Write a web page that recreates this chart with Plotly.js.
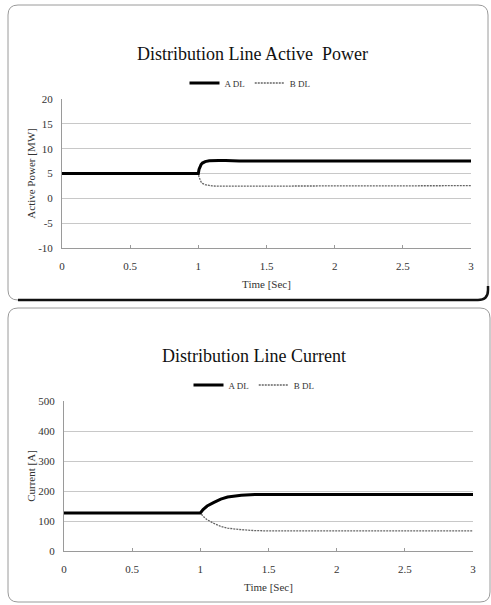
<!DOCTYPE html>
<html><head><meta charset="utf-8">
<script src="https://cdn.plot.ly/plotly-3.0.1.min.js"></script>
<style>html,body{margin:0;padding:0;background:#fff}#chart{width:491px;height:605px}</style>
</head><body><div id="chart"></div>
<script>
// ---- data ----
const powerTime = [0, 1, 1.005, 1.01, 1.02, 1.03, 1.05, 1.08, 1.1, 1.15, 1.2, 1.25, 1.3, 1.5, 2, 2.5, 3];
const powerA    = [5.0, 5.0, 5.8, 6.3, 6.8, 7.1, 7.4, 7.55, 7.6, 7.6, 7.6, 7.55, 7.5, 7.5, 7.5, 7.5, 7.5];
const powerB    = [5.0, 5.0, 4.3, 3.8, 3.3, 3.0, 2.75, 2.6, 2.5, 2.45, 2.45, 2.5, 2.55, 2.55, 2.55, 2.55, 2.55];
const currTime  = [0, 1, 1.02, 1.05, 1.1, 1.15, 1.2, 1.25, 1.3, 1.4, 1.5, 2, 2.5, 3];
const currA     = [127, 127, 138, 150, 162, 173, 180, 184, 186, 188, 188, 188, 188, 188];
const currB     = [127, 127, 116, 104, 92, 82, 76, 73, 71, 68, 67, 67, 67, 67];
const seriesNames = ['A DL', 'B DL'];
const titles = ['Distribution Line Active \u00a0Power', 'Distribution Line Current'];
const yTitles = ['Active Power [MW]', 'Current [A]'];
const xTitle = 'Time [Sec]';
const powerTickVals = [-10, -5, 0, 5, 10, 15, 20];
const powerTickText = ['-10', '-5', '0', '5', '10', '15', '20'];
const currTickVals = [0, 100, 200, 300, 400, 500];
const timeTickVals = [0, 0.5, 1, 1.5, 2, 2.5, 3];

const W = 491, H = 605;
const px = v => v / W, py = v => 1 - v / H;
const FONT = 'Liberation Serif, Times New Roman, serif';

const lineA = {color: '#000', width: 3};
const lineB = {color: '#666', width: 1.3, dash: '2px,1px'};

// B drawn first so A lies on top; legendrank keeps A first in legends
const traces = [
  {x: powerTime, y: powerB, name: seriesNames[1], mode: 'lines', line: lineB, xaxis: 'x', yaxis: 'y', legend: 'legend', legendrank: 2},
  {x: powerTime, y: powerA, name: seriesNames[0], mode: 'lines', line: lineA, xaxis: 'x', yaxis: 'y', legend: 'legend', legendrank: 1},
  {x: currTime, y: currB, name: seriesNames[1], mode: 'lines', line: lineB, xaxis: 'x2', yaxis: 'y2', legend: 'legend2', legendrank: 2},
  {x: currTime, y: currA, name: seriesNames[0], mode: 'lines', line: lineA, xaxis: 'x2', yaxis: 'y2', legend: 'legend2', legendrank: 1}
];

function xax(domain, anchor) {
  return {domain: domain, anchor: anchor, range: [0, 3], tickvals: timeTickVals, showgrid: false, zeroline: false,
    showline: true, linecolor: '#9a9a9a', linewidth: 1, ticks: 'inside', ticklen: 3, tickcolor: '#9a9a9a',
    tickfont: {family: FONT, size: 11, color: '#333'}, ticklabelstandoff: 8,
    title: {text: xTitle, font: {family: FONT, size: 11, color: '#333'}, standoff: 9}, automargin: false};
}
function yax(domain, anchor, range, vals, text, title) {
  return {domain: domain, anchor: anchor, range: range, tickvals: vals, ticktext: text, showgrid: true, gridcolor: '#c8c8c8', gridwidth: 1,
    zeroline: false, showline: true, linecolor: '#9a9a9a', linewidth: 1, ticks: '',
    tickfont: {family: FONT, size: 11, color: '#333'}, ticklabelstandoff: 6,
    title: {text: title, font: {family: FONT, size: 11, color: '#333'}, standoff: 0}, automargin: false};
}

function roundRect(x0, y0, x1, y1, r) {
  const P = (x, y) => px(x) + ',' + py(y);
  return 'M' + P(x0 + r, y0) + ' L' + P(x1 - r, y0) + ' Q' + P(x1, y0) + ' ' + P(x1, y0 + r) +
    ' L' + P(x1, y1 - r) + ' Q' + P(x1, y1) + ' ' + P(x1 - r, y1) + ' L' + P(x0 + r, y1) +
    ' Q' + P(x0, y1) + ' ' + P(x0, y1 - r) + ' L' + P(x0, y0 + r) + ' Q' + P(x0, y0) + ' ' + P(x0 + r, y0) + ' Z';
}
function shadowPath(x0, y0, x1, y1, r) {
  const P = (x, y) => px(x) + ',' + py(y);
  return 'M' + P(x0 + r, y1) + ' L' + P(x1 - r, y1) + ' Q' + P(x1, y1) + ' ' + P(x1, y1 - r) + ' L' + P(x1, y1 - r - 4);
}

const legendBase = {orientation: 'h', xanchor: 'center', yanchor: 'middle',
  font: {family: FONT, size: 9, color: '#333'}, bgcolor: 'rgba(0,0,0,0)', itemwidth: 30, tracegroupgap: 0};

const layout = {
  width: W, height: H, margin: {l: 0, r: 0, t: 0, b: 0},
  paper_bgcolor: '#fff', plot_bgcolor: 'rgba(0,0,0,0)', showlegend: true,
  xaxis: xax([px(62), px(471)], 'y'),
  yaxis: yax([py(248), py(99)], 'x', [-10, 20], powerTickVals, powerTickText, yTitles[0]),
  xaxis2: xax([px(64), px(473)], 'y2'),
  yaxis2: yax([py(551), py(401)], 'x2', [0, 500], currTickVals, currTickVals.map(String), yTitles[1]),
  legend: Object.assign({x: px(250), y: py(83)}, legendBase),
  legend2: Object.assign({x: px(254), y: py(385)}, legendBase),
  annotations: [
    {text: titles[0], xref: 'paper', yref: 'paper', x: px(253), y: py(54), xanchor: 'center', yanchor: 'middle',
      showarrow: false, font: {family: FONT, size: 18, color: '#111'}},
    {text: titles[1], xref: 'paper', yref: 'paper', x: px(254), y: py(356), xanchor: 'center', yanchor: 'middle',
      showarrow: false, font: {family: FONT, size: 18, color: '#111'}}
  ],
  shapes: [
    {type: 'path', xref: 'paper', yref: 'paper', path: roundRect(8, 5, 488, 300, 10), line: {color: '#9a9a9a', width: 1}, layer: 'below'},
    {type: 'path', xref: 'paper', yref: 'paper', path: shadowPath(8, 5, 488, 300, 10), line: {color: '#111', width: 2.5}, layer: 'below'},
    {type: 'path', xref: 'paper', yref: 'paper', path: roundRect(8, 308, 490, 602, 10), line: {color: '#9a9a9a', width: 1}, layer: 'below'}
  ]
};

Plotly.newPlot('chart', traces, layout, {staticPlot: true, displayModeBar: false});
</script></body></html>
